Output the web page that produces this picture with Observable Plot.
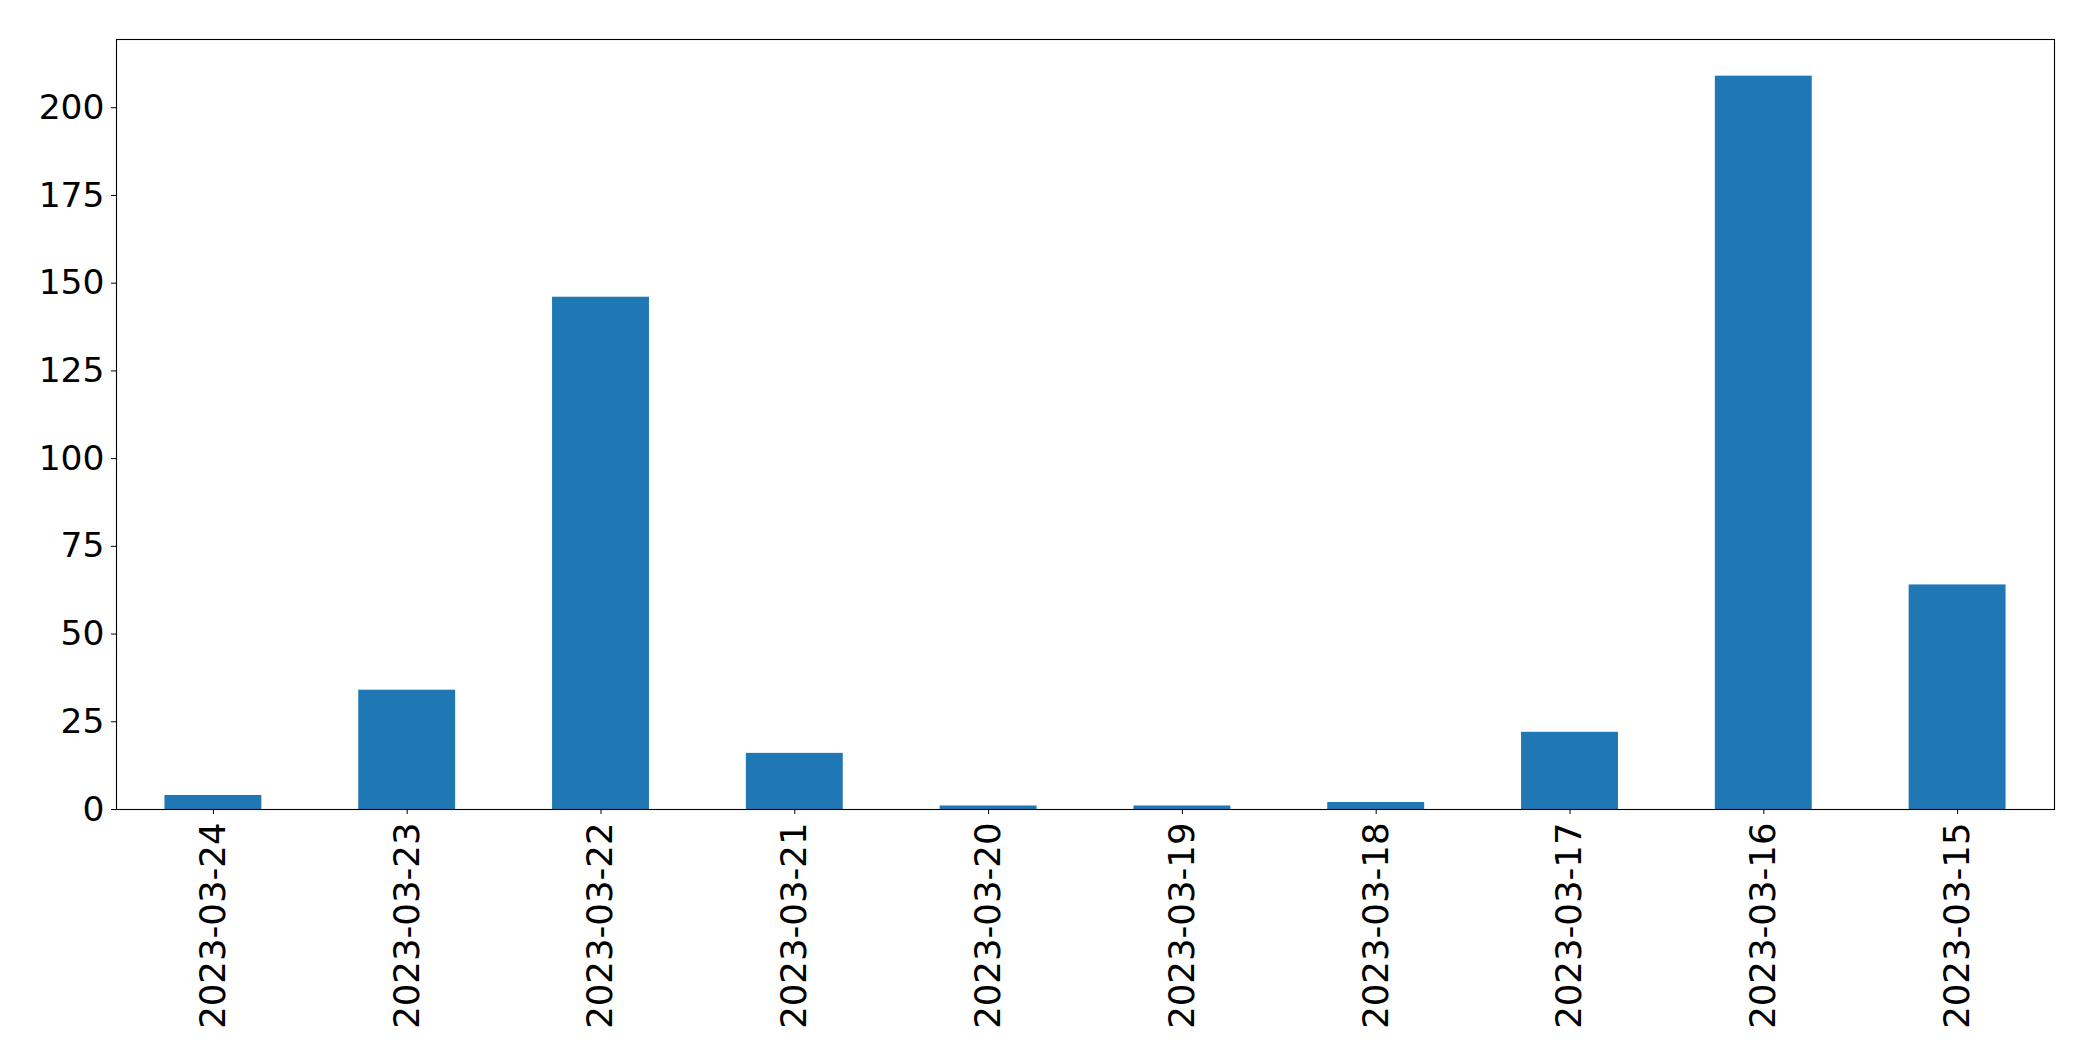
<!DOCTYPE html>
<html>
<head>
<meta charset="utf-8">
<script src="https://cdn.jsdelivr.net/npm/d3@7"></script>
<script src="https://cdn.jsdelivr.net/npm/@observablehq/plot@0.6"></script>
<style>
  html, body { margin: 0; padding: 0; background: #fff; }
  #chart svg { display: block; }
</style>
</head>
<body>
<div id="chart"></div>
<script>
const dates = ["2023-03-24", "2023-03-23", "2023-03-22", "2023-03-21", "2023-03-20",
               "2023-03-19", "2023-03-18", "2023-03-17", "2023-03-16", "2023-03-15"];
const counts = [4, 34, 146, 16, 1, 1, 2, 22, 209, 64];
const yTicks = [0, 25, 50, 75, 100, 125, 150, 175, 200];

const data = dates.map((d, i) => ({date: d, count: counts[i]}));

const chart = Plot.plot({
  width: 2093,
  height: 1061,
  marginLeft: 116,
  marginRight: 39,
  marginTop: 39,
  marginBottom: 252,
  style: {fontFamily: "DejaVu Sans", fontSize: "34px", color: "#000", background: "#fff"},
  x: {domain: dates, paddingInner: 0.5, paddingOuter: 0.25, round: false, label: null},
  y: {domain: [0, d3.max(counts) * 1.05], label: null},
  marks: [
    Plot.barY(data, {x: "date", y: "count", fill: "#1f77b4"}),
    Plot.axisY({ticks: yTicks, tickSize: 5, tickPadding: 7, label: null, fontSize: 34.5}),
    Plot.axisX({tickSize: 5, tickPadding: 8, tickRotate: -90, label: null, fontSize: 35.5}),
    Plot.frame({stroke: "#000", strokeWidth: 1.1})
  ]
});
document.getElementById("chart").appendChild(chart);
</script>
</body>
</html>
